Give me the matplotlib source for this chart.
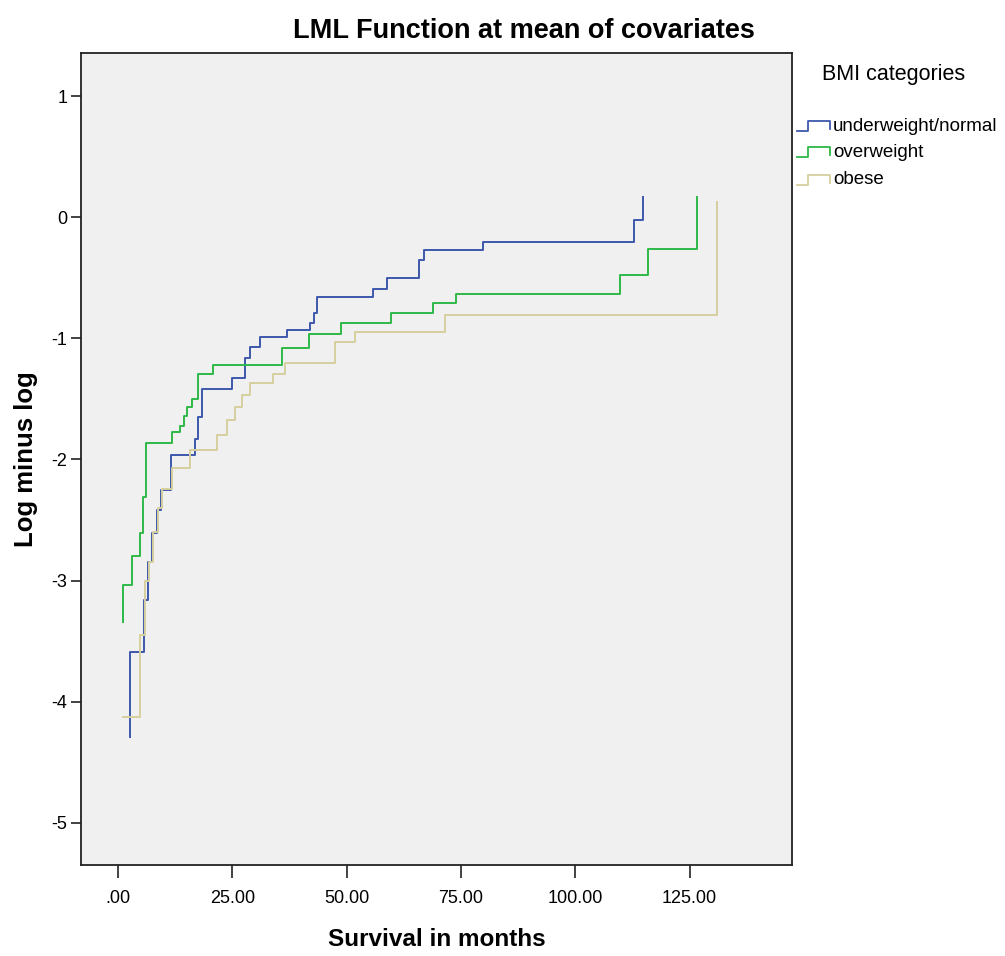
import matplotlib
matplotlib.use("Agg")
import matplotlib.pyplot as plt
from matplotlib.lines import Line2D

# ============================================================
# DATA
# ============================================================

groups = ["underweight/normal", "overweight", "obese"]

t_under = [2.6, 2.6, 5.7, 6.6, 7.4, 8.5, 9.5, 11.5, 16.8, 17.5, 18.3, 25.0, 27.8,
           28.9, 31.1, 37.0, 42.0, 42.8, 43.5, 55.8, 58.8, 65.8, 66.9, 79.8,
           112.9, 114.8]
y_under = [-4.29, -3.59, -3.16, -2.85, -2.61, -2.42, -2.25, -1.96, -1.83, -1.65,
           -1.42, -1.33, -1.16, -1.07, -0.99, -0.93, -0.87, -0.79, -0.66, -0.59,
           -0.50, -0.35, -0.27, -0.20, -0.02, 0.165]

t_over = [1.1, 1.1, 3.1, 4.8, 5.5, 6.1, 11.8, 13.6, 14.4, 15.1, 16.2, 17.5, 20.8,
          35.9, 41.8, 48.7, 59.7, 68.9, 73.9, 109.8, 115.9, 126.6]
y_over = [-3.34, -3.04, -2.80, -2.61, -2.31, -1.86, -1.77, -1.72, -1.64, -1.57,
          -1.50, -1.29, -1.22, -1.08, -0.96, -0.87, -0.79, -0.71, -0.63, -0.48,
          -0.26, 0.165]

t_obese = [1.1, 4.8, 5.8, 6.8, 7.6, 8.8, 9.7, 11.8, 15.7, 21.6, 23.8, 25.6, 27.1,
           28.9, 33.9, 36.5, 47.5, 51.8, 71.5, 131.0]
y_obese = [-4.13, -3.45, -3.00, -2.85, -2.60, -2.40, -2.24, -2.07, -1.92, -1.80,
           -1.67, -1.57, -1.47, -1.37, -1.29, -1.20, -1.03, -0.95, -0.81, 0.13]

x_ticks = [0, 25, 50, 75, 100, 125]
x_tick_labels = [".00", "25.00", "50.00", "75.00", "100.00", "125.00"]
y_ticks = [1, 0, -1, -2, -3, -4, -5]

colors = ["#3E58AC", "#2EB848", "#D6CF9E"]

# ============================================================
# PLOT
# ============================================================

plt.rcParams["font.family"] = ["Liberation Sans", "DejaVu Sans"]
plt.rcParams["axes.unicode_minus"] = False

fig = plt.figure(figsize=(10.05, 9.56), dpi=100)
ax = fig.add_axes([0.081, 0.095, 0.707, 0.850])
ax.set_facecolor("#F0F0F0")

series = [(t_under, y_under), (t_over, y_over), (t_obese, y_obese)]
for (t, y), c in zip(series, colors):
    ax.plot(t, y, drawstyle="steps-post", color=c, lw=1.4)

ax.set_xlim(-8.0, 147.4)
ax.set_ylim(-5.35, 1.36)
ax.set_xticks(x_ticks)
ax.set_xticklabels(x_tick_labels)
ax.set_yticks(y_ticks)
ax.tick_params(axis="both", direction="out", length=7, width=1.2, labelsize=13,
               color="#222222")
ax.tick_params(axis="x", pad=9, length=9)
ax.tick_params(axis="y", pad=3)
for s in ax.spines.values():
    s.set_linewidth(1.3)
    s.set_color("#222222")

ax.set_xlabel("Survival in months", fontsize=17.5, fontweight="bold", labelpad=15)
ax.set_ylabel("Log minus log", fontsize=18.5, fontweight="bold", labelpad=10)
fig.text(0.521, 0.968, "LML Function at mean of covariates", ha="center", va="center",
         fontsize=19.5, fontweight="bold")

# legend drawn by hand to get SPSS step icons
fig.text(0.818, 0.922, "BMI categories", fontsize=15.5, va="center")
leg_y = [0.868, 0.841, 0.812]
for name, c, yy in zip(groups, colors, leg_y):
    xs = [0.793, 0.804, 0.804, 0.826, 0.826]
    ys = [yy - 0.005, yy - 0.005, yy + 0.005, yy + 0.005, yy - 0.003]
    fig.add_artist(Line2D(xs, ys, color=c, lw=1.3, transform=fig.transFigure))
    fig.text(0.829, yy, name, fontsize=13.5, va="center")

fig.savefig("out.png", dpi=100)
